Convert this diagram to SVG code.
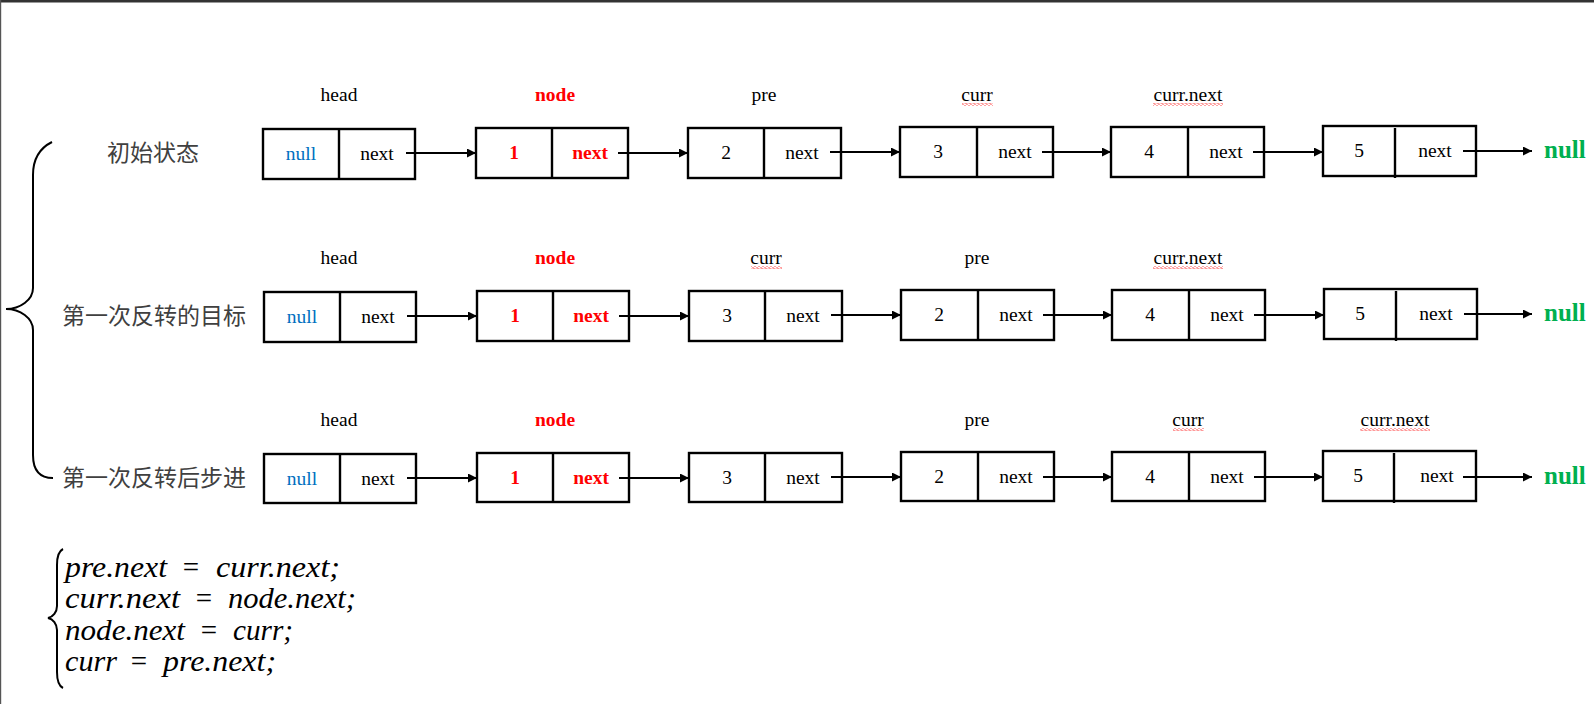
<svg xmlns="http://www.w3.org/2000/svg" width="1594" height="704" viewBox="0 0 1594 704">
<style>
.box{fill:#fff;stroke:#000;stroke-width:2.4}
.dv{stroke:#000;stroke-width:2.4}
.t{font-family:"Liberation Serif",serif;font-size:19.5px;text-anchor:middle;fill:#000}
.red{fill:#f00;font-weight:bold}
.blue{fill:#0070C0}
.green{font-family:"Liberation Serif",serif;fill:#00B050;font-weight:bold;font-size:25px}
.cn{font-family:"Liberation Serif","Noto Sans CJK SC",sans-serif;font-size:23px;fill:#404040}
.link{stroke:#000;stroke-width:2;fill:none;marker-end:url(#ah)}
.brace{fill:none;stroke:#000;stroke-width:2}
.m{font-family:"Liberation Serif",serif;font-style:italic;font-size:29px;fill:#000}
.mo{font-family:"Liberation Serif",serif;font-size:29px;fill:#000;text-anchor:middle}
</style>
<defs>
<marker id="ah" markerUnits="userSpaceOnUse" markerWidth="9" markerHeight="9" viewBox="0 0 10 10" refX="10" refY="5" orient="auto">
<path d="M0,0 L10,5 L0,10 z" fill="#000"/>
</marker>
<pattern id="wave" patternUnits="userSpaceOnUse" width="4" height="3">
<polyline points="0,1.5 1,0.5 3,2.5 4,1.5" fill="none" stroke="#f00" stroke-width="0.8"/>
</pattern>
</defs>
<rect x="0" y="0" width="1594" height="704" fill="#fff"/>
<rect x="0" y="0" width="1594" height="2.5" fill="#333"/>
<rect x="0" y="0" width="1.2" height="704" fill="#555"/>

<g id="brace-main"><path class="brace" d="M52,142 C40,148 33,158 33,175 L33,288 C33,300 20,309 6,309 C20,309 33,318 33,330 L33,455 C33,470 40,478 53,478"/></g>
<g id="row-labels">
<text class="cn" x="107" y="161">初始状态</text>
<text class="cn" x="62" y="324">第一次反转的目标</text>
<text class="cn" x="62" y="486">第一次反转后步进</text>
</g>

<!-- Row 1 -->
<g id="r1-labels">
<text class="t" x="339" y="101">head</text>
<text class="t red" x="555" y="101">node</text>
<text class="t" x="764" y="101">pre</text>
<text class="t" x="977" y="101">curr</text>
<rect x="962" y="103" width="31" height="3" fill="url(#wave)"/>
<text class="t" x="1188" y="101">curr.next</text>
<rect x="1153" y="103" width="70" height="3" fill="url(#wave)"/>
</g>
<g id="r1-n0"><rect class="box" x="263" y="129" width="152" height="50"/><line class="dv" x1="339" y1="129" x2="339" y2="179"/><text class="t blue" x="301" y="160">null</text><text class="t" x="377" y="160">next</text></g>
<g id="r1-n1"><rect class="box" x="476" y="128" width="152" height="50"/><line class="dv" x1="552" y1="128" x2="552" y2="178"/><text class="t red" x="514" y="159">1</text><text class="t red" x="590" y="159">next</text></g>
<g id="r1-n2"><rect class="box" x="688" y="128" width="153" height="50"/><line class="dv" x1="764" y1="128" x2="764" y2="178"/><text class="t" x="726" y="159">2</text><text class="t" x="802" y="159">next</text></g>
<g id="r1-n3"><rect class="box" x="900" y="127" width="153" height="50"/><line class="dv" x1="977" y1="127" x2="977" y2="177"/><text class="t" x="938" y="158">3</text><text class="t" x="1015" y="158">next</text></g>
<g id="r1-n4"><rect class="box" x="1111" y="127" width="153" height="50"/><line class="dv" x1="1188" y1="127" x2="1188" y2="177"/><text class="t" x="1149" y="158">4</text><text class="t" x="1226" y="158">next</text></g>
<g id="r1-n5"><rect class="box" x="1323" y="126" width="153" height="50"/><line class="dv" x1="1395" y1="128" x2="1395" y2="178"/><text class="t" x="1359" y="157">5</text><text class="t" x="1435" y="157">next</text></g>
<g id="r1-null"><text class="green" x="1544" y="158">null</text></g>

<!-- Row 2 -->
<g id="r2-labels">
<text class="t" x="339" y="264">head</text>
<text class="t red" x="555" y="264">node</text>
<text class="t" x="766" y="264">curr</text>
<rect x="751" y="266" width="31" height="3" fill="url(#wave)"/>
<text class="t" x="977" y="264">pre</text>
<text class="t" x="1188" y="264">curr.next</text>
<rect x="1153" y="266" width="70" height="3" fill="url(#wave)"/>
</g>
<g id="r2-n0"><rect class="box" x="264" y="292" width="152" height="50"/><line class="dv" x1="340" y1="292" x2="340" y2="342"/><text class="t blue" x="302" y="323">null</text><text class="t" x="378" y="323">next</text></g>
<g id="r2-n1"><rect class="box" x="477" y="291" width="152" height="50"/><line class="dv" x1="553" y1="291" x2="553" y2="341"/><text class="t red" x="515" y="322">1</text><text class="t red" x="591" y="322">next</text></g>
<g id="r2-n2"><rect class="box" x="689" y="291" width="153" height="50"/><line class="dv" x1="765" y1="291" x2="765" y2="341"/><text class="t" x="727" y="322">3</text><text class="t" x="803" y="322">next</text></g>
<g id="r2-n3"><rect class="box" x="901" y="290" width="153" height="50"/><line class="dv" x1="978" y1="290" x2="978" y2="340"/><text class="t" x="939" y="321">2</text><text class="t" x="1016" y="321">next</text></g>
<g id="r2-n4"><rect class="box" x="1112" y="290" width="153" height="50"/><line class="dv" x1="1189" y1="290" x2="1189" y2="340"/><text class="t" x="1150" y="321">4</text><text class="t" x="1227" y="321">next</text></g>
<g id="r2-n5"><rect class="box" x="1324" y="289" width="153" height="50"/><line class="dv" x1="1396" y1="291" x2="1396" y2="341"/><text class="t" x="1360" y="320">5</text><text class="t" x="1436" y="320">next</text></g>
<g id="r2-null"><text class="green" x="1544" y="321">null</text></g>

<!-- Row 3 -->
<g id="r3-labels">
<text class="t" x="339" y="426">head</text>
<text class="t red" x="555" y="426">node</text>
<text class="t" x="977" y="426">pre</text>
<text class="t" x="1188" y="426">curr</text>
<rect x="1173" y="428" width="31" height="3" fill="url(#wave)"/>
<text class="t" x="1395" y="426">curr.next</text>
<rect x="1360" y="428" width="70" height="3" fill="url(#wave)"/>
</g>
<g id="r3-n0"><rect class="box" x="264" y="454" width="152" height="49"/><line class="dv" x1="340" y1="454" x2="340" y2="503"/><text class="t blue" x="302" y="485">null</text><text class="t" x="378" y="485">next</text></g>
<g id="r3-n1"><rect class="box" x="477" y="453" width="152" height="49"/><line class="dv" x1="553" y1="453" x2="553" y2="502"/><text class="t red" x="515" y="484">1</text><text class="t red" x="591" y="484">next</text></g>
<g id="r3-n2"><rect class="box" x="689" y="453" width="153" height="49"/><line class="dv" x1="765" y1="453" x2="765" y2="502"/><text class="t" x="727" y="484">3</text><text class="t" x="803" y="484">next</text></g>
<g id="r3-n3"><rect class="box" x="901" y="452" width="153" height="49"/><line class="dv" x1="978" y1="452" x2="978" y2="501"/><text class="t" x="939" y="483">2</text><text class="t" x="1016" y="483">next</text></g>
<g id="r3-n4"><rect class="box" x="1112" y="452" width="153" height="49"/><line class="dv" x1="1189" y1="452" x2="1189" y2="501"/><text class="t" x="1150" y="483">4</text><text class="t" x="1227" y="483">next</text></g>
<g id="r3-n5"><rect class="box" x="1323" y="451" width="153" height="50"/><line class="dv" x1="1394" y1="453" x2="1394" y2="503"/><text class="t" x="1358" y="482">5</text><text class="t" x="1437" y="482">next</text></g>
<g id="r3-null"><text class="green" x="1544" y="484">null</text></g>

<g id="connectors">
<line class="link" x1="406" y1="153" x2="476" y2="153"/>
<line class="link" x1="618" y1="153" x2="688" y2="153"/>
<line class="link" x1="830" y1="152" x2="900" y2="152"/>
<line class="link" x1="1042" y1="152" x2="1111" y2="152"/>
<line class="link" x1="1253" y1="152" x2="1323" y2="152"/>
<line class="link" x1="1463" y1="151" x2="1532" y2="151"/>

<line class="link" x1="407" y1="316" x2="477" y2="316"/>
<line class="link" x1="619" y1="316" x2="689" y2="316"/>
<line class="link" x1="831" y1="315" x2="901" y2="315"/>
<line class="link" x1="1043" y1="315" x2="1112" y2="315"/>
<line class="link" x1="1254" y1="315" x2="1324" y2="315"/>
<line class="link" x1="1464" y1="314" x2="1532" y2="314"/>

<line class="link" x1="407" y1="478" x2="477" y2="478"/>
<line class="link" x1="619" y1="478" x2="689" y2="478"/>
<line class="link" x1="831" y1="477" x2="901" y2="477"/>
<line class="link" x1="1043" y1="477" x2="1112" y2="477"/>
<line class="link" x1="1254" y1="477" x2="1323" y2="477"/>
<line class="link" x1="1463" y1="477" x2="1532" y2="477"/>
</g>

<g id="formula">
<path class="brace" d="M63,549 C59,551 57,556 57,565 L57,606 C57,612 53,617 48,618 C53,619 57,624 57,630 L57,672 C57,681 59,686 63,688"/>
<text class="m" x="65" y="577" textLength="102" lengthAdjust="spacingAndGlyphs">pre.next</text>
<text class="mo" x="191" y="577">=</text>
<text class="m" x="216" y="577" textLength="124" lengthAdjust="spacingAndGlyphs">curr.next;</text>

<text class="m" x="65" y="608" textLength="115" lengthAdjust="spacingAndGlyphs">curr.next</text>
<text class="mo" x="204" y="608">=</text>
<text class="m" x="228" y="608" textLength="128" lengthAdjust="spacingAndGlyphs">node.next;</text>

<text class="m" x="65" y="640" textLength="120" lengthAdjust="spacingAndGlyphs">node.next</text>
<text class="mo" x="209" y="640">=</text>
<text class="m" x="233" y="640" textLength="60" lengthAdjust="spacingAndGlyphs">curr;</text>

<text class="m" x="65" y="671" textLength="52" lengthAdjust="spacingAndGlyphs">curr</text>
<text class="mo" x="139" y="671">=</text>
<text class="m" x="163" y="671" textLength="113" lengthAdjust="spacingAndGlyphs">pre.next;</text>
</g>
</svg>
